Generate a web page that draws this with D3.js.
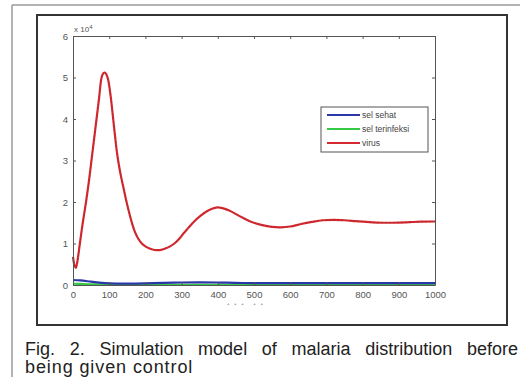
<!DOCTYPE html>
<html><head><meta charset="utf-8">
<script src="https://cdn.jsdelivr.net/npm/d3@7"></script>
<style>html,body{margin:0;padding:0;background:#fff;}svg{display:block;font-family:"Liberation Sans",Arial,sans-serif;}</style>
</head><body>
<svg id="chart" width="520" height="377"></svg>
<script>
const xTicks = [0,100,200,300,400,500,600,700,800,900,1000];
const yTicks = [0,1,2,3,4,5,6];
const exponentLabel = "x 10";
const exponentSup = "4";
const seriesNames = ["sel sehat","sel terinfeksi","virus"];
const seriesColors = ["#2b36a8","#35c945","#d42a30"];
const virusT = [0,4,8,13,19,27,36,44,51,58,65,72,79,84,88,92,97,104,111,116,121,127,133,139,148,157,164,171,180,190,200,210,220,231,243,255,268,280,293,305,318,330,351,375,400,430,460,490,520,550,575,600,630,660,690,720,750,780,810,840,870,900,930,960,1000];
const virusV = [0.68,0.48,0.41,0.62,1.0,1.5,2.0,2.5,3.0,3.5,4.0,4.5,5.0,5.1,5.12,5.08,4.95,4.55,4.0,3.6,3.22,2.88,2.6,2.36,2.0,1.68,1.46,1.28,1.12,1.0,0.93,0.885,0.855,0.84,0.845,0.88,0.93,1.0,1.11,1.24,1.37,1.49,1.66,1.8,1.87,1.8,1.66,1.53,1.45,1.40,1.39,1.41,1.47,1.52,1.56,1.57,1.56,1.54,1.52,1.505,1.50,1.505,1.515,1.525,1.53];
const cellT = [0,20,50,80,100,150,200,250,300,350,400,450,500,600,700,800,900,1000];
const sehatV = [0.12,0.11,0.08,0.05,0.04,0.035,0.04,0.05,0.06,0.065,0.06,0.05,0.045,0.045,0.045,0.045,0.045,0.045];
const infeksiV = [0.03,0.025,0.015,0.01,0.008,0.006,0.005,0.005,0.005,0.005,0.005,0.005,0.005,0.005,0.005,0.005,0.005,0.005];
const captionLines = ["Fig. 2. Simulation model of malaria distribution before","being given control"];

const svg = d3.select("#chart");
svg.append("line").attr("x1",12).attr("x2",520).attr("y1",5).attr("y2",5).attr("stroke","#9a9a9a").attr("stroke-width",1.5);
svg.append("line").attr("x1",12).attr("x2",12).attr("y1",5).attr("y2",377).attr("stroke","#9a9a9a").attr("stroke-width",1.5);
svg.append("rect").attr("x",37).attr("y",15).attr("width",470).attr("height",310).attr("fill","#fff").attr("stroke","#333").attr("stroke-width",2);

const L=73,R=435,T=36,B=285;
const x = d3.scaleLinear().domain([0,1000]).range([L,R]);
const y = d3.scaleLinear().domain([0,6]).range([B,T]);
const g = svg.append("g");

const line = d3.line().curve(d3.curveCatmullRom.alpha(0.5));
const series = [
  {pts: cellT.map((t,i)=>[x(t),y(infeksiV[i])]), c: seriesColors[1]},
  {pts: cellT.map((t,i)=>[x(t),y(sehatV[i])]), c: seriesColors[0]},
  {pts: virusT.map((t,i)=>[x(t),y(virusV[i])]), c: seriesColors[2]}
];
g.selectAll("path.s").data(series).join("path").attr("class","s")
  .attr("d",d=>line(d.pts)).attr("fill","none").attr("stroke",d=>d.c).attr("stroke-width",2.2);
g.append("path").attr("d",line(series[2].pts)).attr("fill","none").attr("stroke","#7a1a20").attr("stroke-width",0.6).attr("stroke-dasharray","2,2").attr("opacity",0.5);

function styleAxis(sel){
  sel.selectAll(".domain").attr("stroke","#555").attr("stroke-width",1);
  sel.selectAll(".tick line").attr("stroke","#555");
  sel.selectAll("text").attr("fill","#555").attr("font-size","9.5px").attr("font-family","Liberation Sans, Arial, sans-serif");
}
const fmt = d3.format("d");
const ax = g.append("g").attr("transform",`translate(0,${B})`).call(d3.axisBottom(x).tickValues(xTicks).tickFormat(fmt).tickSize(-3).tickPadding(6).tickSizeOuter(0));
styleAxis(ax);
const axT = g.append("g").attr("transform",`translate(0,${T})`).call(d3.axisTop(x).tickValues(xTicks).tickSize(-3).tickFormat("").tickSizeOuter(0));
styleAxis(axT);
const ay = g.append("g").attr("transform",`translate(${L},0)`).call(d3.axisLeft(y).tickValues(yTicks).tickFormat(fmt).tickSize(-3).tickPadding(5).tickSizeOuter(0));
styleAxis(ay);
const ayR = g.append("g").attr("transform",`translate(${R},0)`).call(d3.axisRight(y).tickValues(yTicks).tickSize(-3).tickFormat("").tickSizeOuter(0));
styleAxis(ayR);

const ex = g.append("text").attr("x",L+1).attr("y",T-4).attr("font-size","8px").attr("fill","#555").text(exponentLabel);
ex.append("tspan").attr("dy",-3).attr("font-size","6px").text(exponentSup);

svg.append("text").attr("x",245).attr("y",306).attr("text-anchor","middle").attr("font-size","6px").attr("fill","#9a9a9a").attr("xml:space","preserve").text("•   •   •      •   •");

const lg = g.append("g");
lg.append("rect").attr("x",321).attr("y",107).attr("width",107).attr("height",45).attr("fill","#fff").attr("stroke","#555").attr("stroke-width",1);
[0,1,2].forEach((k,i)=>{
  const yy = 115 + i*14;
  lg.append("line").attr("x1",327).attr("x2",360).attr("y1",yy).attr("y2",yy).attr("stroke",seriesColors[k]).attr("stroke-width",2);
  lg.append("text").attr("x",362).attr("y",yy+3).attr("font-size","8.5px").attr("fill","#444").text(seriesNames[k]);
});

const c1 = svg.append("text").attr("x",25).attr("y",355).attr("font-size","18px").attr("fill","#222").text(captionLines[0]);
const nat = c1.node().getComputedTextLength();
const gaps = captionLines[0].split(" ").length - 1;
c1.attr("word-spacing", Math.max(0,(493 - nat) / gaps).toFixed(2));
svg.append("text").attr("x",25).attr("y",373).attr("font-size","18px").attr("letter-spacing","0.9px").attr("fill","#222").text(captionLines[1]);
</script>
</body></html>
